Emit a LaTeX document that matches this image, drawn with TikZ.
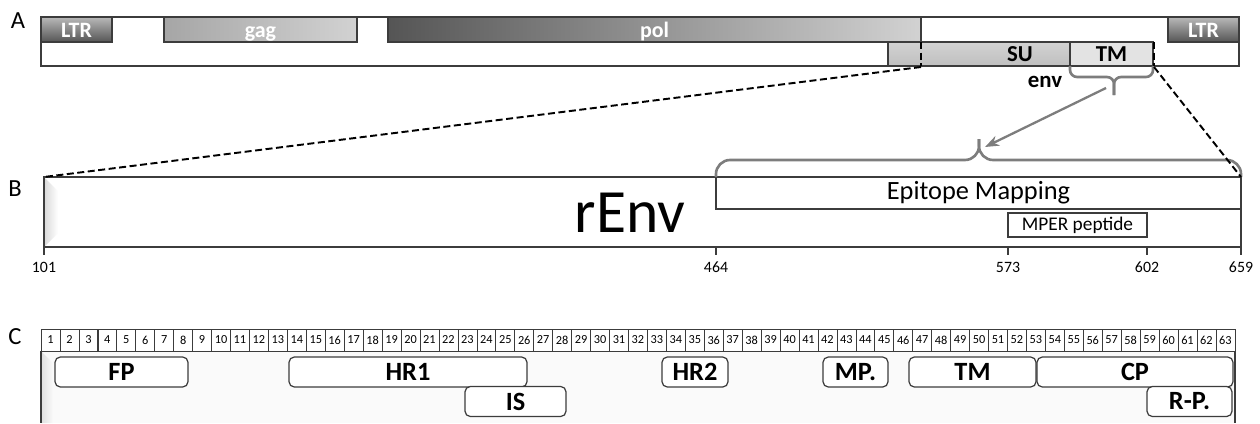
\documentclass[tikz,border=0pt]{standalone}
\usepackage{fontspec}
\setmainfont{Carlito}
\usetikzlibrary{arrows.meta}
\definecolor{hivline}{RGB}{60,60,60}
\definecolor{hivbrace}{RGB}{125,125,125}
\definecolor{hivdark}{RGB}{85,85,85}
\definecolor{hivlight}{RGB}{210,210,210}

\begin{document}
\begin{tikzpicture}[x=0.02cm, y=-0.02cm, line width=0.7pt]
                \tikzstyle{every node}=[font=\fontsize{14}{16}\selectfont, inner sep=0pt]
                \tikzstyle{gene}=[draw=hivline, minimum height=0.5cm, text height=10.5pt, text depth=1pt, text=white, font=\bfseries\fontsize{12.5}{14}\selectfont]
                \tikzstyle{cellbox}=[draw=hivline, line width=0.4pt, minimum width=0.379cm, minimum height=0.44cm, font=\fontsize{7}{8}\selectfont]
                \tikzstyle{domainbox}=[draw=hivline, rounded corners=3pt, fill=white, minimum height=0.6cm, font=\bfseries\fontsize{15}{17}\selectfont]
                \tikzstyle{zoomline}=[dashed, dash pattern=on 4pt off 2pt, line width=1.1pt]
                \useasboundingbox (0,0) rectangle (1260,423);

                % A: genome
                \node (la) at (18,21) {A};
                \draw[hivline, fill=white] (41,17) rectangle (1239,66);
                \node[gene, minimum width=1.42cm, top color=gray!55, bottom color=hivdark] (ltrl) at (76.5,29.5) {LTR};
                \node[gene, minimum width=3.86cm, left color=gray!70, right color=hivlight] (gag) at (260.5,29.5) {gag};
                \node[gene, minimum width=10.66cm, left color=hivdark, right color=hivlight] (pol) at (654.5,29.5) {pol};
                \node[gene, minimum width=1.42cm, top color=gray!55, bottom color=hivdark] (ltrr) at (1203.5,29.5) {LTR};
                \draw[hivline, top color=gray!35, bottom color=gray!50] (888,42) rectangle (1070,66);
                \node[font=\bfseries\fontsize{13}{15}\selectfont] (su) at (1020,54) {SU};
                \node[draw=hivline, minimum width=1.66cm, minimum height=0.48cm, fill=gray!22, font=\bfseries\fontsize{13}{15}\selectfont] (tm) at (1111.5,54) {TM};
                \node[font=\bfseries\fontsize{13}{15}\selectfont] (env) at (1045,82) {env};
                \draw[zoomline, line width=0.8pt] (921,42) -- (921,66);
                \draw[zoomline, line width=0.8pt] (1154,42) -- (1154,66);
                \coordinate (polend) at (921,67);
                \coordinate (tmend) at (1154,67);

                % brace under TM
                \draw[hivbrace, line width=1.5pt, rounded corners=4pt] (1070,66) -- (1070,77) -- (1114,77) -- (1114,95);
                \draw[hivbrace, line width=1.5pt, rounded corners=4pt] (1153,66) -- (1153,77) -- (1114,77) -- (1114,95);
                \coordinate (tmtip) at (1106,88);

                % B: rEnv
                \node (lb) at (15,189) {B};
                \fill[white] (44,177) rectangle (1241,247);
                \shade[left color=gray!30, right color=white] (44,177) -- (58,191) -- (58,233) -- (44,247) -- cycle;
                \draw[hivline] (44,177) rectangle (1241,247);
                \coordinate (bl) at (44,177);
                \coordinate (br) at (1241,177);
                \node[font=\fontsize{35}{40}\selectfont, anchor=base] (renv) at (630,232) {rEnv};
                \node[draw=hivline, fill=white, minimum width=10.5cm, minimum height=0.64cm, font=\fontsize{15}{17}\selectfont] (epi) at (978.5,193) {Epitope Mapping};
                \node[draw=hivline, fill=white, minimum width=2.78cm, minimum height=0.48cm, font=\fontsize{11}{13}\selectfont] (mper) at (1077.5,225) {MPER peptide};
                \foreach \x/\n in {44/101, 716/464, 1008/573, 1147/602, 1241/659} {
                  \draw[hivline, line width=1pt] (\x,247) -- (\x,255);
                  \node[font=\fontsize{9}{11}\selectfont, anchor=base] (t\n) at (\x,272) {\n};
                }

                % big brace over the mapping
                \draw[hivbrace, line width=1.5pt, rounded corners=8pt] (716,177) -- (716,160) -- (979,160) -- (979,139);
                \draw[hivbrace, line width=1.5pt, rounded corners=8pt] (1241,177) -- (1241,160) -- (979,160) -- (979,139);
                \coordinate (eptip) at (985,147);

                \draw[zoomline] (polend) -- (bl);
                \draw[zoomline] (tmend) -- (br);
                \draw[hivbrace, line width=1.3pt, -{Stealth[length=8pt, width=6pt]}] (tmtip) -- (eptip);

                % C: residues
                \node (lc) at (15,337) {C};
                \fill[gray!4] (41,351) rectangle (1235,423);
                \shade[left color=gray!25, right color=gray!4] (41,351) -- (53,363) -- (53,423) -- (41,423) -- cycle;
                \draw[hivline] (41,351) -- (41,423);
                \draw[hivline] (1235,351) -- (1235,423);
                \foreach \i in {1,...,63}
                  \node[cellbox, fill=white] (c\i) at ({41+18.95*(\i-0.5)},340) {\i};

                \node[domainbox, minimum width=2.66cm] (fp) at (121.5,372) {FP};
                \node[domainbox, minimum width=4.76cm] (hra) at (408,372) {HR1};
                \node[domainbox, minimum width=2.02cm] (is) at (515.5,401.5) {IS};
                \node[domainbox, minimum width=1.32cm] (hrb) at (695,372) {HR2};
                \node[domainbox, minimum width=1.30cm] (mp) at (855.5,372) {MP.};
                \node[domainbox, minimum width=2.54cm] (tmd) at (972.5,372) {TM};
                \node[domainbox, minimum width=3.92cm] (cp) at (1135,372) {CP};
                \node[domainbox, minimum width=1.70cm] (rp) at (1189.5,401.5) {R-P.};
          \end{tikzpicture}
\end{document}
